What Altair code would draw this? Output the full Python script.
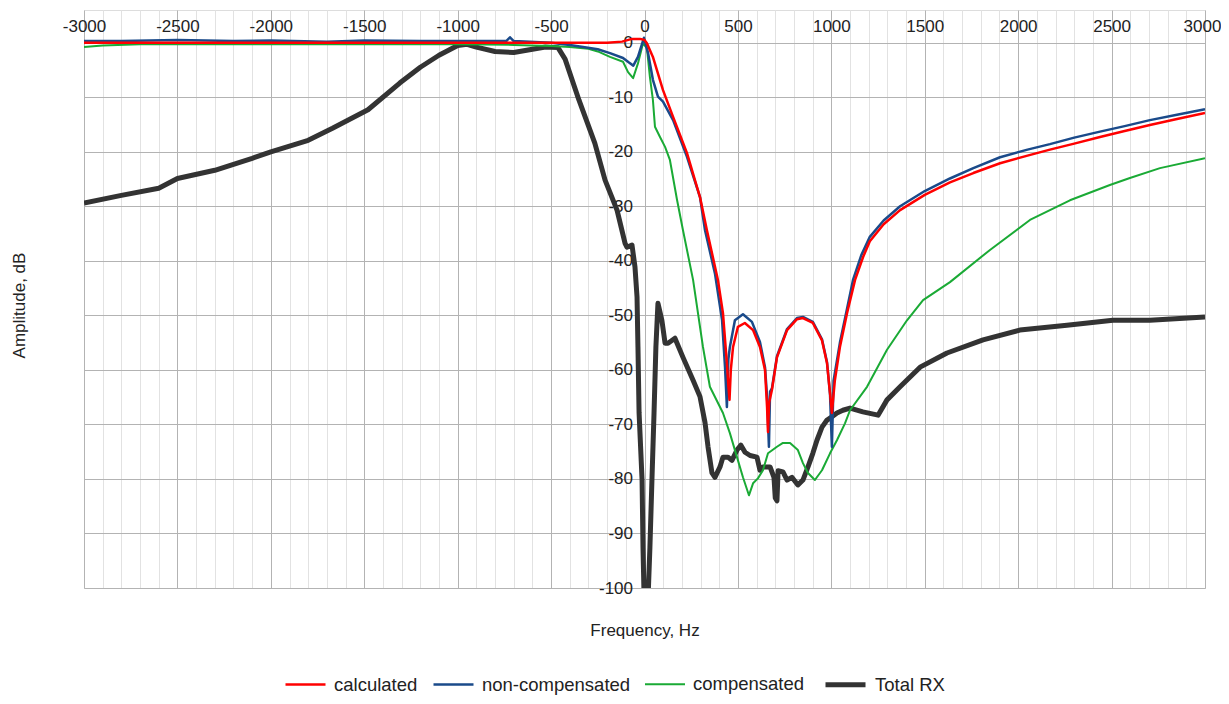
import altair as alt
import pandas as pd

SERIES = ["calculated", "non-compensated", "compensated", "Total RX"]
COLORS = ["#ff0000", "#1a4a8a", "#1aaa35", "#333333"]
WIDTHS = [2.5, 2.5, 2.0, 5.0]

calc_hz = [-3000, -2000, -1000, -500, -200, -120, -67, -24, 0, 13, 45, 99, 153, 227, 270, 297, 334, 393,
           420, 441, 449, 455, 462, 474, 500, 537, 581, 618, 645, 656, 661, 667, 682, 709, 763, 816, 848,
           901, 950, 977, 993, 1003, 1019, 1046, 1084, 1127, 1170, 1206, 1280, 1368, 1500, 1635, 1760, 1903,
           2050, 2170, 2300, 2438, 2570, 2705, 2850, 3000]
calc_db = [0.0, 0.0, 0.0, 0.0, 0.0, 0.2, 0.7, 0.7, 0.5, -0.1, -2.6, -8.7, -13.6, -20.2, -25.2, -28.3, -34.4, -43.5,
           -49.6, -58.8, -63.0, -65.5, -60.0, -55.8, -52.1, -51.4, -52.7, -55.8, -60.0, -66.8, -71.4, -66.0, -63.7,
           -57.7, -52.7, -50.7, -50.5, -51.4, -54.6, -58.8, -64.3, -67.9, -61.9, -55.8, -49.6, -43.5, -39.3,
           -36.4, -33.3, -30.7, -27.9, -25.6, -23.9, -22.1, -20.7, -19.6, -18.5, -17.3, -16.2, -15.1, -14.0, -12.9]

noncomp_hz = [-3000, -2800, -2500, -2200, -2000, -1700, -1500, -1200, -1000, -740, -720, -700, -500, -400, -329,
              -250, -185, -115, -85, -60, -35, -3, 19, 45, 72, 99, 153, 227, 297, 324, 377, 415, 431, 441, 449,
              457, 484, 527, 575, 618, 645, 656, 666, 672, 682, 709, 763, 816, 848, 901, 950, 977, 993, 1003,
              1012, 1046, 1084, 1116, 1160, 1206, 1280, 1368, 1500, 1635, 1760, 1903, 2050, 2170, 2300, 2438,
              2570, 2705, 2850, 3000]
noncomp_db = [0.3, 0.3, 0.5, 0.3, 0.4, 0.2, 0.4, 0.3, 0.3, 0.3, 1.0, 0.3, 0.0, -0.4, -0.8,
              -1.2, -1.9, -2.8, -3.6, -4.2, -2.6, 0.9, -1.9, -6.8, -9.9, -10.8, -14.2, -20.9, -28.3, -34.4,
              -42.3, -50.8, -59.5, -66.8, -58.0, -55.8, -50.9, -49.8, -51.2, -54.9, -59.5, -64.9, -74.1, -64.0,
              -63.4, -57.5, -52.5, -50.5, -50.3, -51.2, -54.4, -58.6, -64.5, -74.1, -62.0, -55.0, -48.8, -43.5,
              -39.0, -35.6, -32.6, -30.0, -27.2, -24.9, -23.0, -21.0, -19.6, -18.6, -17.4, -16.3, -15.3, -14.2,
              -13.2, -12.2]

comp_hz = [-3000, -2900, -2700, -2000, -1000, -700, -500, -400, -300, -250, -185, -115, -88, -61, -35, -8, 13,
           29, 45, 56, 83, 110, 136, 174, 206, 260, 313, 350, 420, 457, 495, 527, 559, 581, 607, 634, 661,
           709, 741, 779, 821, 848, 875, 912, 950, 993, 1030, 1073, 1100, 1191, 1298, 1405, 1491, 1635, 1849,
           2063, 2277, 2491, 2598, 2759, 3000]
comp_db = [-0.8, -0.5, -0.3, -0.3, -0.3, -0.4, -0.6, -0.8, -1.1, -1.6, -2.6, -3.5, -5.4, -6.5, -3.8, -0.1, -1.0,
           -6.3, -10.5, -15.4, -17.3, -19.1, -21.5, -28.8, -34.4, -43.5, -55.8, -63.1, -67.9, -71.6, -76.0,
           -79.7, -83.0, -80.8, -79.9, -78.4, -75.3, -74.1, -73.4, -73.4, -74.7, -77.1, -78.9, -80.2, -78.4,
           -75.3, -72.9, -69.8, -67.4, -63.1, -56.3, -50.9, -47.2, -43.9, -38.0, -32.5, -28.9, -26.1, -24.8,
           -23.0, -21.2]

rx_hz = [-3000, -2800, -2600, -2500, -2300, -2100, -2000, -1800, -1670, -1480, -1310, -1200, -1100, -1000, -950,
         -900, -800, -700, -600, -530, -463, -425, -351, -266, -211, -147, -104, -94, -67, -51, -40, -35, -29,
         -13, -8, -2, 19, 29, 40, 51, 61, 72, 93, 110, 126, 163, 206, 260, 297, 324, 340, 361, 377, 404, 420,
         447, 468, 495, 516, 538, 565, 602, 618, 634, 672, 693, 700, 709, 715, 741, 763, 789, 821, 848, 875,
         901, 923, 950, 977, 1003, 1030, 1062, 1100, 1169, 1250, 1298, 1368, 1475, 1619, 1812, 2009, 2261,
         2507, 2705, 3000]
rx_db = [-29.4, -28.0, -26.7, -24.9, -23.4, -21.2, -20.0, -17.9, -15.7, -12.3, -7.4, -4.5, -2.3, -0.5, -0.3,
         -0.8, -1.6, -1.8, -1.2, -0.8, -0.9, -3.0, -10.5, -18.4, -25.2, -30.7, -36.8, -37.5, -37.1, -41.1,
         -46.6, -55.8, -67.9, -80.2, -92.5, -102.0, -102.0, -92.5, -80.0, -67.9, -55.8, -47.8, -50.9, -55.1,
         -55.1, -54.2, -57.7, -61.9, -64.9, -69.7, -74.1, -78.9, -79.7, -77.8, -76.0, -76.0, -76.6, -74.7,
         -73.8, -75.1, -75.7, -76.0, -78.4, -77.8, -77.8, -79.7, -83.5, -84.0, -78.5, -78.7, -80.2, -79.7,
         -81.1, -80.2, -77.8, -75.3, -72.9, -70.5, -69.2, -68.6, -67.9, -67.4, -67.0, -67.7, -68.3, -65.5,
         -63.1, -59.5, -56.9, -54.5, -52.7, -51.8, -50.9, -50.9, -50.3]

X_TICKS = list(range(-3000, 3001, 100))
Y_TICKS = list(range(-100, 1, 10))

FONT = "Liberation Sans"


def frame(name, hz, db):
    return pd.DataFrame({"hz": hz, "db": db, "series": name})


x_enc = alt.X(
    "hz:Q",
    scale=alt.Scale(domain=[-3000, 3000], nice=False, zero=False),
    axis=alt.Axis(
        orient="top", offset=-33, values=X_TICKS,
        labelExpr="datum.value % 500 === 0 ? '' + datum.value : ''",
        grid=True,
        gridColor=alt.condition("datum.value % 500 === 0", alt.value("#b3b3b3"), alt.value("#e2e2e2")),
        labelOffset=alt.condition("datum.value === 3000", alt.value(-3), alt.value(0)),
        gridWidth=1, ticks=False, domain=False, labelPadding=8, labelFontSize=17,
        labelFont=FONT, labelColor="#222222", labelOverlap=False, labelFlush=False, labelBound=False,
        title="Frequency, Hz", titleFont=FONT, titleFontSize=17, titleFontWeight="normal",
        titleColor="#222222", titleY=587, titleBaseline="middle",
    ),
)

y_enc = alt.Y(
    "db:Q",
    scale=alt.Scale(domain=[-100, 6], nice=False, zero=False),
    axis=alt.Axis(
        orient="left", offset=-560.5, values=Y_TICKS, labelExpr="'' + datum.value",
        grid=True, gridColor="#b3b3b3", gridWidth=1, ticks=False, domain=False,
        labelPadding=12, labelFontSize=17, labelFont=FONT, labelColor="#222222",
        labelOverlap=False, labelBound=False,
        title="Amplitude, dB", titleFont=FONT, titleFontSize=17, titleFontWeight="normal",
        titleColor="#222222", titleX=-625.5, titleY=295, titleAngle=-90, titleBaseline="middle",
    ),
)

legend = alt.Legend(
    orient="none", legendX=200, legendY=652, direction="horizontal", title=None,
    symbolType="stroke", symbolSize=1600, labelFontSize=18.5, labelFont=FONT,
    labelColor="#222222", labelOffset=7, columnPadding=10,
)

color_enc = alt.Color("series:N", scale=alt.Scale(domain=SERIES, range=COLORS), legend=legend)
width_enc = alt.StrokeWidth("series:N", scale=alt.Scale(type="ordinal", domain=SERIES, range=WIDTHS),
                            legend=legend)


def layer(name, hz, db):
    return alt.Chart(frame(name, hz, db)).mark_line(clip=True, strokeJoin="round").encode(
        x=x_enc, y=y_enc, color=color_enc, strokeWidth=width_enc
    )


chart = alt.layer(
    layer("Total RX", rx_hz, rx_db),
    layer("compensated", comp_hz, comp_db),
    layer("non-compensated", noncomp_hz, noncomp_db),
    layer("calculated", calc_hz, calc_db),
).properties(
    width=1121, height=578,
    autosize=alt.AutoSizeParams(type="none"),
    padding={"left": 76, "top": 2, "right": 16, "bottom": 108},
).configure_view(stroke="#b3b3b3", strokeWidth=1).configure(background="white")

chart.save("out.html", embed_options={"renderer": "svg", "actions": False})
